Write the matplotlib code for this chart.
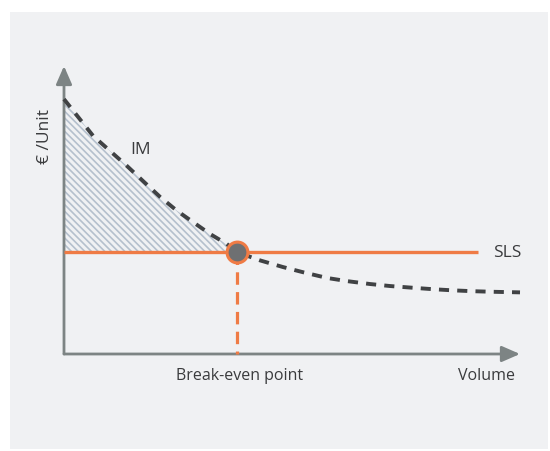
import matplotlib
matplotlib.use("Agg")
import matplotlib.pyplot as plt
from matplotlib.patches import Rectangle

# ---- data (arbitrary units: volume 0..10, €/unit 0..10) ----
im_x = [0.00, 0.64, 1.01, 1.38, 1.73, 2.11, 2.48, 2.83, 3.20, 3.57, 3.79,
        4.30, 4.80, 5.24, 5.77, 6.21, 6.71, 7.15, 7.65, 8.09, 8.53, 8.97, 9.41, 10.0]
im_y = [8.85, 7.57, 7.05, 6.53, 6.01, 5.45, 4.97, 4.58, 4.17, 3.82, 3.54,
        3.25, 3.02, 2.84, 2.64, 2.53, 2.43, 2.36, 2.30, 2.25, 2.21, 2.18, 2.16, 2.14]
sls_y = 3.54
sls_x_end = 9.08
break_even_x = 3.79
x_axis_end = 10.0
y_axis_end = 10.0

labels = {"im": "IM", "sls": "SLS", "ylabel": "€ /Unit",
          "bep": "Break-even point", "xlabel": "Volume"}

ORANGE = "#ef7b45"
DARK = "#404244"
AXIS = "#7d8484"
HATCH = "#b5c0cd"
BG = "#f0f1f3"
TXT = "#3a3b3d"

plt.rcParams['font.family'] = ['Open Sans', 'DejaVu Sans']
plt.rcParams['hatch.linewidth'] = 1.2
plt.rcParams['hatch.color'] = HATCH

W, H = 550, 452
fig = plt.figure(figsize=(W / 100, H / 100), dpi=100)
fig.patch.set_facecolor("white")

ax = fig.add_axes([0, 0, 1, 1])
ax.set_facecolor("none")
ax.axis("off")
ax.add_patch(Rectangle((10 / W, (H - 450) / H), 538 / W, 437 / H,
                       transform=fig.transFigure, facecolor=BG,
                       edgecolor="none", zorder=0))
# origin at pixel (64, 355); 45.6 px per x unit, 28.8 px per y unit
sx, sy = 45.6, 28.8
ax.set_xlim(-64 / sx, (W - 64) / sx)
ax.set_ylim((355 - H) / sy, 355 / sy)

# hatched area between IM curve and SLS up to break-even
hx = [x for x in im_x if x <= break_even_x]
hy = [y for x, y in zip(im_x, im_y) if x <= break_even_x]
ax.fill_between(hx, hy, [sls_y] * len(hx), facecolor="none", edgecolor=HATCH,
                hatch="\\\\\\\\\\", linewidth=0, zorder=1)

# axes arrows
arrow = dict(arrowstyle="-|>,head_length=0.55,head_width=0.24", color=AXIS,
             lw=2, shrinkA=0, shrinkB=0, mutation_scale=20)
ax.annotate("", xy=(x_axis_end, 0), xytext=(0, 0), arrowprops=arrow, zorder=2)
ax.annotate("", xy=(0, y_axis_end), xytext=(0, 0), arrowprops=arrow, zorder=2)

# SLS line
ax.plot([0, sls_x_end], [sls_y, sls_y], color=ORANGE, lw=2.4,
        solid_capstyle="butt", zorder=3)
# vertical dashed break-even line (drawn top to bottom)
ax.plot([break_even_x, break_even_x], [sls_y, 0], color=ORANGE, lw=2.3,
        dashes=(3.9, 2.3), zorder=3)
# IM curve
ax.plot(im_x, im_y, color=DARK, lw=2.8, dashes=(2.6, 2.1), zorder=4)
# break-even marker
ax.plot([break_even_x], [sls_y], marker="o", markersize=15,
        markerfacecolor="#6e7072", markeredgecolor=ORANGE, markeredgewidth=2.2,
        zorder=5)

fs = 11.5
lfs = 12.5
ax.text(1.67, (355 - 150) / sy, labels["im"], fontsize=lfs, color=TXT,
        ha="center", va="center")
ax.text(sls_x_end + 0.64, sls_y, labels["sls"], fontsize=lfs, color=TXT,
        ha="center", va="center")
ax.text(-19 / sx, (355 - 136) / sy, labels["ylabel"], fontsize=lfs, color=TXT,
        ha="center", va="center", rotation=90)
ax.text(break_even_x + 0.05, -21 / sy, labels["bep"], fontsize=fs, color=TXT,
        ha="center", va="center")
ax.text((486 - 64) / sx, -21 / sy, labels["xlabel"], fontsize=fs, color=TXT,
        ha="center", va="center")

fig.savefig("out.png", dpi=100, facecolor=fig.get_facecolor())
